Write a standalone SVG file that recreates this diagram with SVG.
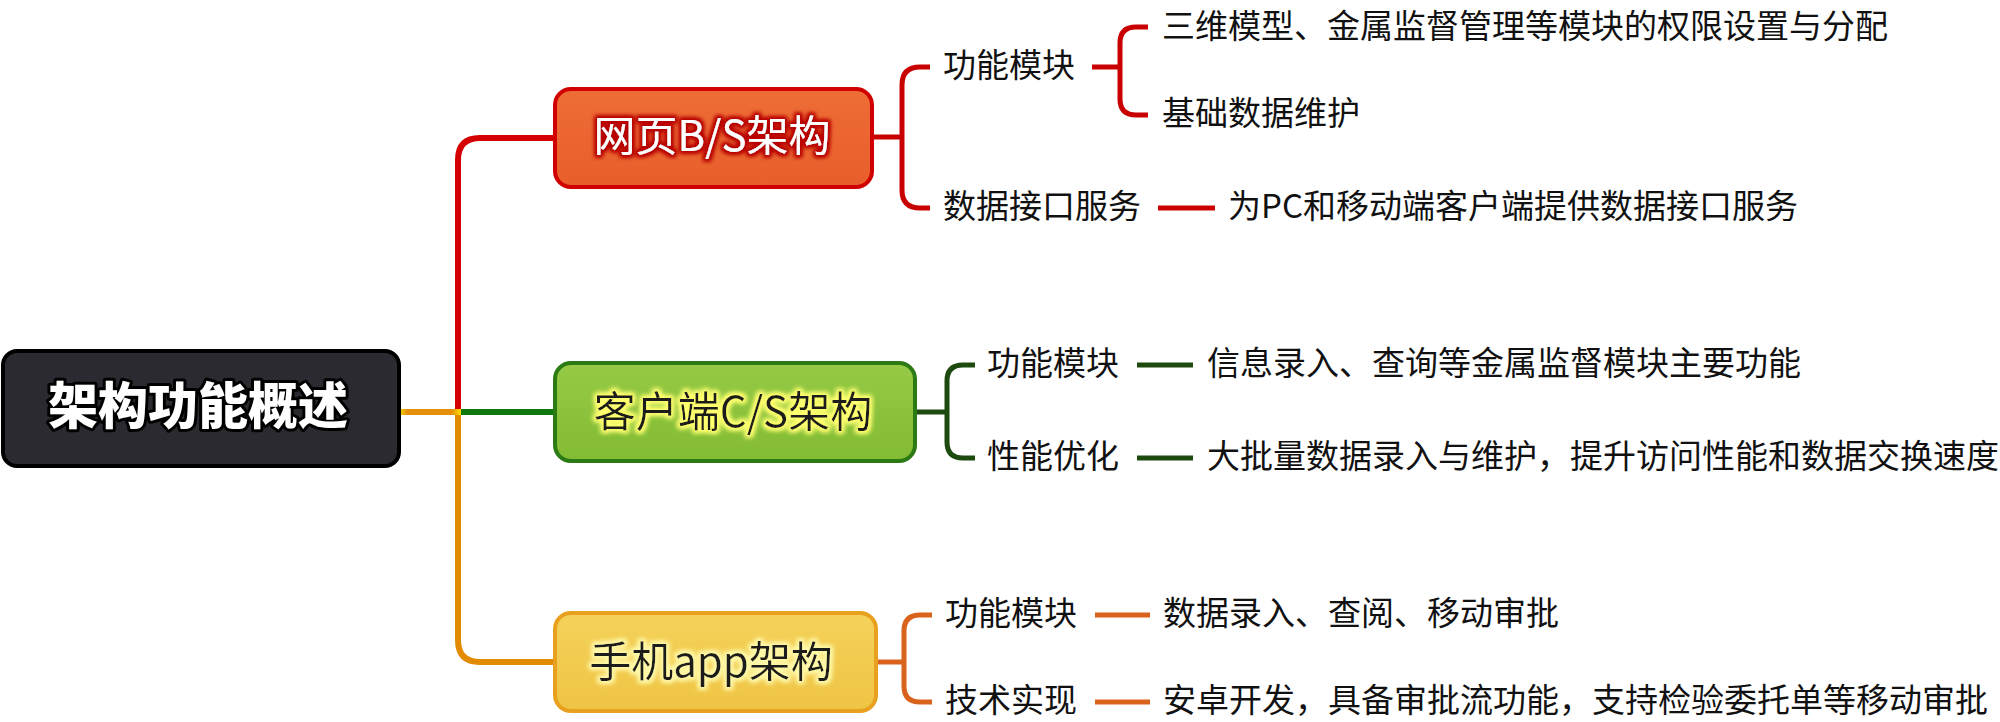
<svg xmlns="http://www.w3.org/2000/svg" width="2000" height="722" viewBox="0 0 2000 722">
<defs>
<style>
.t{font-family:"Noto Sans CJK SC","Noto Sans",sans-serif;font-size:33px;fill:#111}
.main{fill:none;stroke-width:6;stroke-linecap:butt;stroke-linejoin:round}
.sub{fill:none;stroke-width:5;stroke-linejoin:round}
.red{stroke:#c80000}
.grn{stroke:#1d4a0f}
.org{stroke:#d9631c}
.bt{font-family:"Noto Sans CJK SC","Noto Sans",sans-serif;font-size:42px;text-anchor:middle}
</style>
<linearGradient id="gBS" x1="0" y1="0" x2="0" y2="1"><stop offset="0" stop-color="#ee6d36"/><stop offset="1" stop-color="#e85e2a"/></linearGradient>
<linearGradient id="gCS" x1="0" y1="0" x2="0" y2="1"><stop offset="0" stop-color="#96ca46"/><stop offset="1" stop-color="#82bb34"/></linearGradient>
<linearGradient id="gAP" x1="0" y1="0" x2="0" y2="1"><stop offset="0" stop-color="#f4d25a"/><stop offset="1" stop-color="#efc444"/></linearGradient>
<linearGradient id="gRoot" gradientUnits="userSpaceOnUse" x1="400" y1="0" x2="461" y2="0"><stop offset="0" stop-color="#f5d000"/><stop offset="0.12" stop-color="#e6900a"/><stop offset="0.85" stop-color="#e6900a"/><stop offset="1" stop-color="#ffe000"/></linearGradient>
<filter id="glowRed" x="-20%" y="-50%" width="140%" height="200%">
<feMorphology in="SourceAlpha" operator="dilate" radius="2" result="d"/>
<feGaussianBlur in="d" stdDeviation="2" result="b"/>
<feFlood flood-color="#b80000"/>
<feComposite in2="b" operator="in" result="g"/>
<feMerge><feMergeNode in="g"/><feMergeNode in="g"/><feMergeNode in="SourceGraphic"/></feMerge>
</filter>
<filter id="glowYel" x="-20%" y="-50%" width="140%" height="200%">
<feMorphology in="SourceAlpha" operator="dilate" radius="2" result="d"/>
<feGaussianBlur in="d" stdDeviation="2.5" result="b"/>
<feFlood flood-color="#ffff70"/>
<feComposite in2="b" operator="in" result="g"/>
<feMerge><feMergeNode in="g"/><feMergeNode in="g"/><feMergeNode in="SourceGraphic"/></feMerge>
</filter>
<filter id="glowYel2" x="-20%" y="-50%" width="140%" height="200%">
<feMorphology in="SourceAlpha" operator="dilate" radius="2" result="d"/>
<feGaussianBlur in="d" stdDeviation="2.5" result="b"/>
<feFlood flood-color="#fff8a8"/>
<feComposite in2="b" operator="in" result="g"/>
<feMerge><feMergeNode in="g"/><feMergeNode in="g"/><feMergeNode in="SourceGraphic"/></feMerge>
</filter>
</defs>
<rect width="2000" height="722" fill="#ffffff"/>

<g id="connectors">
<path class="main" stroke="#d40000" d="M458,412 V160 Q458,138 480,138 H555"/>
<path class="main" stroke="#e38b00" d="M458,412 V640 Q458,662 480,662 H555"/>
<path class="main" stroke="#0f780f" d="M458,412 H555"/>
<path class="main" stroke="url(#gRoot)" d="M400,412 H461"/>

<path class="sub red" d="M873,137 H902"/>
<path class="sub red" d="M930,67 H920 Q902,67 902,85 V190 Q902,208 920,208 H930"/>
<path class="sub red" d="M1092,67 H1120"/>
<path class="sub red" d="M1148,27 H1136 Q1120,27 1120,43 V99 Q1120,115 1136,115 H1148"/>
<path class="sub red" d="M1158,208 H1215"/>

<path class="sub grn" d="M916,412 H947"/>
<path class="sub grn" d="M975,365 H963 Q947,365 947,381 V442 Q947,458 963,458 H975"/>
<path class="sub grn" d="M1137,365 H1193"/>
<path class="sub grn" d="M1137,458 H1193"/>

<path class="sub org" d="M877,662 H904"/>
<path class="sub org" d="M932,615 H920 Q904,615 904,631 V686 Q904,702 920,702 H932"/>
<path class="sub org" d="M1095,615 H1150"/>
<path class="sub org" d="M1095,702 H1150"/>
</g>

<g id="root">
<rect x="3" y="351" width="396" height="115" rx="14" fill="#2a2a30" stroke="#000" stroke-width="4"/>
<text x="198" y="424" text-anchor="middle" font-family="'Noto Sans CJK SC','Noto Sans',sans-serif" font-size="50" font-weight="900" fill="#fff" stroke="#000" stroke-width="6" paint-order="stroke" stroke-linejoin="round">架构功能概述</text>
</g>

<g id="bs">
<rect x="555" y="89" width="317" height="98" rx="16" fill="url(#gBS)" stroke="#d00000" stroke-width="4"/>
<text class="bt" x="712" y="151" fill="#fff" filter="url(#glowRed)">网页B/S架构</text>
</g>

<g id="cs">
<rect x="555" y="363" width="360" height="98" rx="16" fill="url(#gCS)" stroke="#2c7a14" stroke-width="4"/>
<text class="bt" x="733" y="427" fill="#1a1a1a" filter="url(#glowYel)">客户端C/S架构</text>
</g>

<g id="app">
<rect x="555" y="613" width="321" height="98" rx="16" fill="url(#gAP)" stroke="#e8a01e" stroke-width="4"/>
<text class="bt" x="711" y="677" fill="#1a1a1a" filter="url(#glowYel2)">手机app架构</text>
</g>

<g id="bs-func"><text class="t" x="943" y="77">功能模块</text></g>
<g id="bs-func-1"><text class="t" x="1162" y="38">三维模型、金属监督管理等模块的权限设置与分配</text></g>
<g id="bs-func-2"><text class="t" x="1162" y="125">基础数据维护</text></g>
<g id="bs-api"><text class="t" x="943" y="218">数据接口服务</text></g>
<g id="bs-api-1"><text class="t" x="1228" y="218">为PC和移动端客户端提供数据接口服务</text></g>

<g id="cs-func"><text class="t" x="987" y="375">功能模块</text></g>
<g id="cs-func-1"><text class="t" x="1207" y="375">信息录入、查询等金属监督模块主要功能</text></g>
<g id="cs-perf"><text class="t" x="987" y="468">性能优化</text></g>
<g id="cs-perf-1"><text class="t" x="1207" y="468">大批量数据录入与维护，提升访问性能和数据交换速度</text></g>

<g id="app-func"><text class="t" x="945" y="625">功能模块</text></g>
<g id="app-func-1"><text class="t" x="1163" y="625">数据录入、查阅、移动审批</text></g>
<g id="app-tech"><text class="t" x="945" y="712">技术实现</text></g>
<g id="app-tech-1"><text class="t" x="1163" y="712">安卓开发，具备审批流功能，支持检验委托单等移动审批</text></g>
</svg>
